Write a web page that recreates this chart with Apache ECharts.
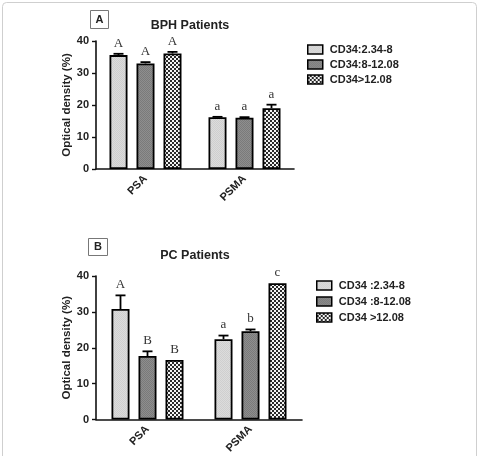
<!DOCTYPE html>
<html><head><meta charset="utf-8">
<script src="https://cdn.jsdelivr.net/npm/echarts@6/dist/echarts.min.js"></script>
<style>html,body{margin:0;padding:0;background:#fff}#c{width:485px;height:456px}</style>
</head><body><div id="c"></div>
<script>
// ---- data ----
const categories = ['PSA', 'PSMA'];
const yTicks = [0, 10, 20, 30, 40];

const seriesNamesA = ['CD34:2.34-8', 'CD34:8-12.08', 'CD34>12.08'];
const valuesA1 = [35.6, 16.2];
const valuesA2 = [33.0, 16.0];
const valuesA3 = [36.1, 19.0];
const errorsA1 = [0.4, 0.1];
const errorsA2 = [0.4, 0.2];
const errorsA3 = [0.5, 1.1];
const lettersA1 = ['A', 'a'];
const lettersA2 = ['A', 'a'];
const lettersA3 = ['A', 'a'];

const seriesNamesB = ['CD34 :2.34-8', 'CD34 :8-12.08', 'CD34 >12.08'];
const valuesB1 = [30.8, 22.4];
const valuesB2 = [17.7, 24.6];
const valuesB3 = [16.6, 38.0];
const errorsB1 = [3.8, 1.0];
const errorsB2 = [1.3, 0.5];
const errorsB3 = [0.0, 0.0];
const lettersB1 = ['A', 'a'];
const lettersB2 = ['B', 'b'];
const lettersB3 = ['B', 'c'];

const titleA = 'BPH Patients';
const titleB = 'PC Patients';
const yName = 'Optical density (%)';

// ---- patterns ----
function makePattern(size, draw) {
  const c = document.createElement('canvas');
  c.width = size; c.height = size;
  const g = c.getContext('2d');
  draw(g);
  return { image: c, repeat: 'repeat' };
}
const pat1 = makePattern(2, g => { g.fillStyle = '#dcdcdc'; g.fillRect(0,0,2,2); g.fillStyle = '#cfcfcf'; g.fillRect(0,0,1,1); g.fillRect(1,1,1,1); });
const pat2 = makePattern(2, g => { g.fillStyle = '#8e8e8e'; g.fillRect(0,0,2,2); g.fillStyle = '#7a7a7a'; g.fillRect(0,0,1,1); g.fillRect(1,1,1,1); });
const pat3 = makePattern(4, g => { g.fillStyle = '#2a2a2a'; g.fillRect(0,0,4,4); g.fillStyle = '#f4f4f4'; g.fillRect(0,0,2,2); g.fillRect(2,2,2,2); });
const patterns = [pat1, pat2, pat3];

const FONT = 'Liberation Sans, Arial, sans-serif';
const BW = 18, GAP = 0.5;

function barSeries(name, vals, idx, axisIdx) {
  return {
    type: 'bar', name: name, xAxisIndex: axisIdx, yAxisIndex: axisIdx,
    data: vals, barWidth: BW, barGap: (GAP * 100) + '%',
    itemStyle: { color: patterns[idx], borderColor: '#000', borderWidth: 1.8 },
    emphasis: { disabled: true }
  };
}
function errSeries(vals, errs, letters, idx, axisIdx) {
  const data = vals.map((v, i) => [i, v, errs[i]]);
  return {
    type: 'custom', xAxisIndex: axisIdx, yAxisIndex: axisIdx, z: 5,
    data: data, silent: true,
    renderItem: function (params, api) {
      const ci = api.value(0), v = api.value(1), e = api.value(2);
      const off = (idx - 1) * BW * (1 + GAP);
      const base = api.coord([ci, v]);
      const top = api.coord([ci, v + e]);
      const x = base[0] + off;
      const children = [];
      if (e > 0) {
        children.push({ type: 'line', shape: { x1: x, y1: base[1], x2: x, y2: top[1] }, style: { stroke: '#000', lineWidth: 1.8 } });
        children.push({ type: 'line', shape: { x1: x - 5, y1: top[1], x2: x + 5, y2: top[1] }, style: { stroke: '#000', lineWidth: 1.8 } });
      }
      children.push({ type: 'text', style: { text: letters[ci], x: x, y: top[1] - 4, align: 'center', verticalAlign: 'bottom', font: '13px "Liberation Serif", "Times New Roman", serif', fill: '#333' } });
      return { type: 'group', children: children };
    }
  };
}

function xAxis(gi) {
  return {
    type: 'category', gridIndex: gi, data: categories,
    axisLine: { lineStyle: { color: '#111', width: 1.6 } },
    axisTick: { alignWithLabel: true, length: 4, lineStyle: { color: '#111', width: 1.4 } },
    axisLabel: { rotate: 45, fontFamily: FONT, fontWeight: 'bold', fontSize: 11, color: '#222', margin: 8 }
  };
}
function yAxis(gi) {
  return {
    type: 'value', gridIndex: gi, min: 0, max: 40, interval: 10,
    name: yName, nameLocation: 'middle', nameGap: 21,
    nameTextStyle: { fontFamily: FONT, fontWeight: 'bold', fontSize: 11.5, color: '#222' },
    axisLine: { show: true, lineStyle: { color: '#111', width: 1.6 } },
    axisTick: { show: true, length: 4, lineStyle: { color: '#111', width: 1.4 } },
    splitLine: { show: false },
    axisLabel: { fontFamily: FONT, fontWeight: 'bold', fontSize: 11, color: '#222', margin: 7 }
  };
}
function legend(names, left, top, gap) {
  return {
    data: names.map((n, i) => ({ name: n, itemStyle: { color: patterns[i], borderColor: '#000', borderWidth: 1.5 } })),
    orient: 'vertical', left: left, top: top, itemWidth: 15, itemHeight: 9, itemGap: gap,
    icon: 'rect', selectedMode: false,
    textStyle: { fontFamily: FONT, fontWeight: 'bold', fontSize: 11, color: '#222', padding: [0, 0, 0, 2] }
  };
}

const chart = echarts.init(document.getElementById('c'), null, { renderer: 'canvas' });
chart.setOption({
  animation: false,
  backgroundColor: '#fff',
  title: [
    { text: titleA, left: 185, top: 14, textAlign: 'center', textStyle: { fontFamily: FONT, fontWeight: 'bold', fontSize: 12.5, color: '#222' } },
    { text: titleB, left: 190, top: 244, textAlign: 'center', textStyle: { fontFamily: FONT, fontWeight: 'bold', fontSize: 12.5, color: '#222' } }
  ],
  grid: [
    { left: 96, top: 41, width: 198, height: 128, containLabel: false },
    { left: 96, top: 276, width: 206, height: 144, containLabel: false }
  ],
  xAxis: [xAxis(0), xAxis(1)],
  yAxis: [yAxis(0), yAxis(1)],
  legend: [legend(seriesNamesA, 302, 39, 4), legend(seriesNamesB, 311, 275, 5)],
  graphic: [
    { type: 'rect', shape: { x: 2.5, y: 2.5, width: 474, height: 470, r: 4 }, style: { fill: 'none', stroke: '#cfcfcf', lineWidth: 1 }, silent: true },
    { type: 'rect', shape: { x: 90.5, y: 10.5, width: 18, height: 18 }, style: { fill: '#fff', stroke: '#777', lineWidth: 1 }, silent: true },
    { type: 'text', x: 99.5, y: 19.5, style: { text: 'A', align: 'center', verticalAlign: 'middle', font: 'bold 11px "Liberation Sans", Arial, sans-serif', fill: '#222' }, silent: true },
    { type: 'rect', shape: { x: 88.5, y: 238.5, width: 19, height: 17 }, style: { fill: '#fff', stroke: '#777', lineWidth: 1 }, silent: true },
    { type: 'text', x: 98, y: 247, style: { text: 'B', align: 'center', verticalAlign: 'middle', font: 'bold 11px "Liberation Sans", Arial, sans-serif', fill: '#222' }, silent: true }
  ],
  series: [
    barSeries(seriesNamesA[0], valuesA1, 0, 0),
    barSeries(seriesNamesA[1], valuesA2, 1, 0),
    barSeries(seriesNamesA[2], valuesA3, 2, 0),
    errSeries(valuesA1, errorsA1, lettersA1, 0, 0),
    errSeries(valuesA2, errorsA2, lettersA2, 1, 0),
    errSeries(valuesA3, errorsA3, lettersA3, 2, 0),
    barSeries(seriesNamesB[0], valuesB1, 0, 1),
    barSeries(seriesNamesB[1], valuesB2, 1, 1),
    barSeries(seriesNamesB[2], valuesB3, 2, 1),
    errSeries(valuesB1, errorsB1, lettersB1, 0, 1),
    errSeries(valuesB2, errorsB2, lettersB2, 1, 1),
    errSeries(valuesB3, errorsB3, lettersB3, 2, 1)
  ]
});
</script></body></html>
